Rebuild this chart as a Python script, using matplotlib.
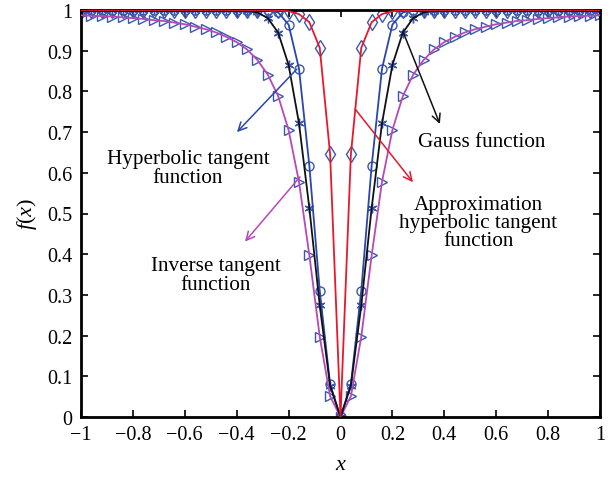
import numpy as np
import matplotlib
matplotlib.use("Agg")
import matplotlib.pyplot as plt

# sample positions (right half, mirrored for the left half)
x_half = [0.00, 0.04, 0.08, 0.12, 0.16, 0.20, 0.24, 0.28, 0.32, 0.36, 0.40, 0.44, 0.48,
          0.52, 0.56, 0.60, 0.64, 0.68, 0.72, 0.76, 0.80, 0.84, 0.88, 0.92, 0.96, 1.00]

approx_tanh = [0.0, 0.645, 0.907, 0.970, 0.990, 0.997, 0.999, 1.0, 1.0, 1.0, 1.0, 1.0, 1.0,
               1.0, 1.0, 1.0, 1.0, 1.0, 1.0, 1.0, 1.0, 1.0, 1.0, 1.0, 1.0, 1.0]
gauss = [0.0, 0.077, 0.274, 0.513, 0.722, 0.865, 0.944, 0.980, 0.994, 0.998, 1.0, 1.0, 1.0,
         1.0, 1.0, 1.0, 1.0, 1.0, 1.0, 1.0, 1.0, 1.0, 1.0, 1.0, 1.0, 1.0]
hyp_tanh = [0.0, 0.080, 0.310, 0.617, 0.856, 0.964, 0.994, 0.999, 1.0, 1.0, 1.0, 1.0, 1.0,
            1.0, 1.0, 1.0, 1.0, 1.0, 1.0, 1.0, 1.0, 1.0, 1.0, 1.0, 1.0, 1.0]
inv_tan = [0.0, 0.051, 0.197, 0.397, 0.578, 0.705, 0.788, 0.841, 0.877, 0.903, 0.921, 0.934,
           0.945, 0.953, 0.959, 0.965, 0.969, 0.973, 0.975, 0.978, 0.980, 0.982, 0.984,
           0.985, 0.986, 0.987]

x_ticks = [-1, -0.8, -0.6, -0.4, -0.2, 0, 0.2, 0.4, 0.6, 0.8, 1]
x_tick_labels = ["\u22121", "\u22120.8", "\u22120.6", "\u22120.4", "\u22120.2", "0",
                 "0.2", "0.4", "0.6", "0.8", "1"]
y_ticks = [0, 0.1, 0.2, 0.3, 0.4, 0.5, 0.6, 0.7, 0.8, 0.9, 1]
y_tick_labels = ["0", "0.1", "0.2", "0.3", "0.4", "0.5", "0.6", "0.7", "0.8", "0.9", "1"]


def mirror(xs, ys):
    xs = np.asarray(xs)
    ys = np.asarray(ys)
    return np.concatenate([-xs[:0:-1], xs]), np.concatenate([ys[:0:-1], ys])


plt.rcParams['font.family'] = ['Liberation Serif', 'DejaVu Serif']
plt.rcParams['mathtext.fontset'] = 'custom'
plt.rcParams['mathtext.it'] = 'Liberation Serif:italic'
plt.rcParams['mathtext.rm'] = 'Liberation Serif'

fig = plt.figure(figsize=(6.16, 4.81), dpi=100)
ax = fig.add_axes([81 / 616, 1 - 418 / 481, (600 - 81) / 616, (418 - 11) / 481])

mcol = '#3a58b0'
series = [
    (inv_tan, '#b848b8', '>', 7.2),
    (hyp_tanh, '#2a46a8', 'o', 6.5),
    (gauss, '#111111', (6, 2, 0), 7),
    (approx_tanh, '#e8182c', 'd', 7.8),
]
for ys, lc, mk, ms in series:
    xx, yy = mirror(x_half, ys)
    ax.plot(xx, yy, linestyle='none', marker=mk, markersize=ms,
            markerfacecolor='none', markeredgecolor=mcol, markeredgewidth=1.0, zorder=2)
for ys, lc, mk, ms in series:
    xx, yy = mirror(x_half, ys)
    ax.plot(xx, yy, color=lc, linewidth=1.3, zorder=3)

ax.set_xlim(-1, 1)
ax.set_ylim(0, 1)
ax.set_xticks(x_ticks)
ax.set_xticklabels(x_tick_labels)
ax.set_yticks(y_ticks)
ax.set_yticklabels(y_tick_labels)
ax.tick_params(direction='in', top=True, right=True, labelsize=14.5, length=5, width=1.2,
               pad=6)
for s in ax.spines.values():
    s.set_linewidth(2)

ax.set_xlabel(r'$x$', fontsize=16, labelpad=8)
ax.set_ylabel(r'$f(x)$', fontsize=16, labelpad=6)

fs = 15.2
arrow_kw = dict(arrowstyle='->', lw=1.1, mutation_scale=15, shrinkA=0, shrinkB=0)
# Hyperbolic tangent
ax.annotate('', xy=(-0.399, 0.70), xytext=(-0.168, 0.855),
            arrowprops=dict(color='#2a46a8', **arrow_kw))
ax.text(-0.588, 0.612, 'Hyperbolic tangent\nfunction', ha='center', va='center',
        fontsize=fs, linespacing=1.05)
# Inverse tangent
ax.annotate('', xy=(-0.368, 0.431), xytext=(-0.156, 0.59),
            arrowprops=dict(color='#b848b8', **arrow_kw))
ax.text(-0.482, 0.349, 'Inverse tangent\nfunction', ha='center', va='center',
        fontsize=fs, linespacing=1.05)
# Gauss
ax.annotate('', xy=(0.383, 0.72), xytext=(0.24, 0.948),
            arrowprops=dict(color='#111111', **arrow_kw))
ax.text(0.543, 0.678, 'Gauss function', ha='center', va='center', fontsize=fs)
# Approximation hyperbolic tangent
ax.annotate('', xy=(0.279, 0.577), xytext=(0.056, 0.757),
            arrowprops=dict(color='#e8182c', **arrow_kw))
ax.text(0.53, 0.477, 'Approximation\nhyperbolic tangent\nfunction', ha='center',
        va='center', fontsize=fs, linespacing=0.93)

fig.savefig('out.png', dpi=100)
